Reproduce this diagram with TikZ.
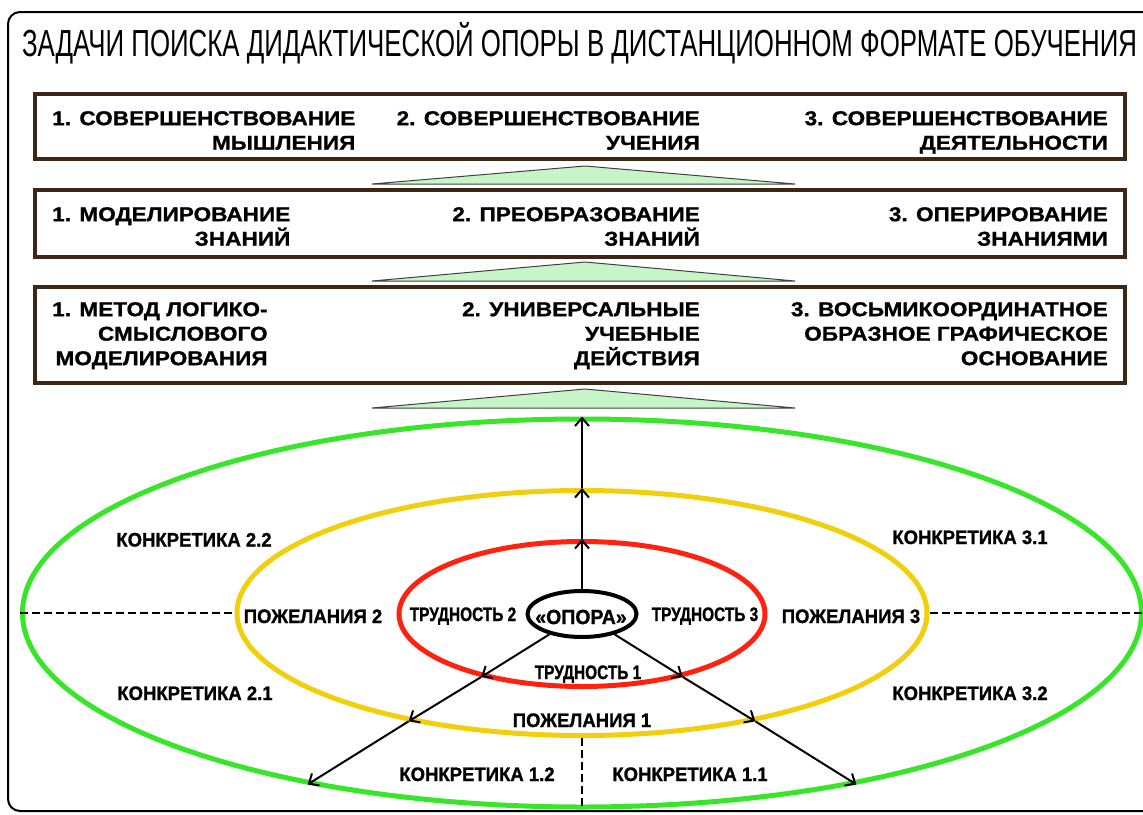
\documentclass[tikz,border=0pt]{standalone}
\usepackage{graphicx}
\usepackage{fontspec}
\setmainfont{Liberation Sans}
\newfontfamily\boxfont[FakeStretch=1.13,FakeBold=1]{Liberation Sans}
\newfontfamily\lblfont[FakeStretch=0.95,FakeBold=1]{Liberation Sans}
\newfontfamily\narrowfont[FakeStretch=0.79,FakeBold=1]{Liberation Sans}
\usetikzlibrary{shapes.geometric,arrows.meta}
\definecolor{panelbrown}{RGB}{62,38,22}
\definecolor{wedgegreen}{RGB}{200,245,200}
\definecolor{ringgreen}{RGB}{55,230,40}
\definecolor{ringyellow}{RGB}{242,207,12}
\definecolor{ringred}{RGB}{255,34,17}

\begin{document}
\begin{tikzpicture}[x=1pt,y=-1pt,>={Straight Barb[length=8pt,width=14pt]},
    panel/.style={draw=panelbrown,line width=4.5pt},
    coltext/.style={font=\boxfont\fontsize{20}{24.5}\selectfont\bfseries,align=right,inner sep=0pt},
    wedge/.style={draw=black!75,fill=wedgegreen,line width=1pt},
    ring/.style={ellipse,draw,line width=5pt,inner sep=0pt},
    lbl/.style={font=\lblfont\fontsize{19.5}{21}\selectfont\bfseries,inner sep=0pt,anchor=base},
    tlbl/.style={font=\narrowfont\fontsize{19.5}{21}\selectfont\bfseries,inner sep=0pt,anchor=base},
    split/.style={dash pattern=on 8pt off 4pt,line width=1.2pt},
    ray/.style={->,line width=2pt}]
    \useasboundingbox (0,0) rectangle (1143,814);
    \clip (0,0) rectangle (1143,814);

    % outer frame and title
    \draw[line width=2pt,rounded corners=12pt] (8,12) rectangle (1170,811);
    \node[anchor=base,inner sep=0pt] (title) at (579.5,56)
        {\resizebox{1115pt}{\height}{\fontsize{37.7}{40}\selectfont ЗАДАЧИ ПОИСКА ДИДАКТИЧЕСКОЙ ОПОРЫ В ДИСТАНЦИОННОМ ФОРМАТЕ ОБУЧЕНИЯ}};

    % three levels
    \draw[panel] (35,94) rectangle (1125,159);
    \draw[panel] (35,190) rectangle (1125,257);
    \draw[panel] (35,287) rectangle (1125,383);

    \node[coltext,anchor=north west] (think) at (52,111) {1. СОВЕРШЕНСТВОВАНИЕ\\МЫШЛЕНИЯ};
    \node[coltext,anchor=north east] (learn) at (700,111) {2. СОВЕРШЕНСТВОВАНИЕ\\УЧЕНИЯ};
    \node[coltext,anchor=north east] (act) at (1108,111) {3. СОВЕРШЕНСТВОВАНИЕ\\ДЕЯТЕЛЬНОСТИ};

    \node[coltext,anchor=north west] (model) at (52,207) {1. МОДЕЛИРОВАНИЕ\\ЗНАНИЙ};
    \node[coltext,anchor=north east] (transform) at (700,207) {2. ПРЕОБРАЗОВАНИЕ\\ЗНАНИЙ};
    \node[coltext,anchor=north east] (operate) at (1108,207) {3. ОПЕРИРОВАНИЕ\\ЗНАНИЯМИ};

    \node[coltext,anchor=north west] (method) at (52,302) {1. МЕТОД ЛОГИКО-\\СМЫСЛОВОГО\\МОДЕЛИРОВАНИЯ};
    \node[coltext,anchor=north east] (actions) at (700,302) {2. УНИВЕРСАЛЬНЫЕ\\УЧЕБНЫЕ\\ДЕЙСТВИЯ};
    \node[coltext,anchor=north east] (basis) at (1108,302) {3. ВОСЬМИКООРДИНАТНОЕ\\ОБРАЗНОЕ ГРАФИЧЕСКОЕ\\ОСНОВАНИЕ};

    \draw[wedge] (372,184) -- (585,166) -- (795,184) -- cycle;
    \draw[wedge] (372,281) -- (585,262) -- (795,281) -- cycle;
    \draw[wedge] (372,408) -- (585,389) -- (795,408) -- cycle;

    % rings
    \node[ring,draw=ringgreen,minimum width=1119pt,minimum height=388pt] (green) at (582,613) {};
    \node[ring,draw=ringyellow,minimum width=690pt,minimum height=245pt] (yellow) at (582,613) {};
    \node[ring,draw=ringred,minimum width=366pt,minimum height=145pt] (red) at (582,614) {};
    \node[ring,draw=black,line width=4pt,minimum width=109pt,minimum height=46pt] (opora) at (582,614) {};
    \node[font=\lblfont\fontsize{20.5}{22}\selectfont\bfseries,inner sep=0pt] (oporatext) at (581,617) {«ОПОРА»};

    \draw[split] (green.west) -- (yellow.west);
    \draw[split] (yellow.east) -- (green.east);
    \draw[split] (yellow.south) -- (green.south);

    \draw[ray] (opora.north) -- (red.north);
    \draw[ray] (red.north) -- (yellow.north);
    \draw[ray] (yellow.north) -- (green.north);
    \draw[ray] (opora.212) -- (red.212);
    \draw[ray] (red.212) -- (yellow.212);
    \draw[ray] (yellow.212) -- (green.212);
    \draw[ray] (opora.328) -- (red.328);
    \draw[ray] (red.328) -- (yellow.328);
    \draw[ray] (yellow.328) -- (green.328);

    % labels
    \node[tlbl] (hard2) at (463,621) {ТРУДНОСТЬ 2};
    \node[tlbl] (hard3) at (705,621) {ТРУДНОСТЬ 3};
    \node[tlbl] (hard1) at (588,679) {ТРУДНОСТЬ 1};
    \node[lbl] (wish2) at (313,623) {ПОЖЕЛАНИЯ 2};
    \node[lbl] (wish3) at (851,623) {ПОЖЕЛАНИЯ 3};
    \node[lbl] (wish1) at (582,727) {ПОЖЕЛАНИЯ 1};
    \node[lbl] (spec22) at (194,546.5) {КОНКРЕТИКА 2.2};
    \node[lbl] (spec31) at (970,544) {КОНКРЕТИКА 3.1};
    \node[lbl] (spec21) at (195,700) {КОНКРЕТИКА 2.1};
    \node[lbl] (spec32) at (970,700) {КОНКРЕТИКА 3.2};
    \node[lbl] (spec12) at (477,781) {КОНКРЕТИКА 1.2};
    \node[lbl] (spec11) at (690,781) {КОНКРЕТИКА 1.1};
\end{tikzpicture}
\end{document}
